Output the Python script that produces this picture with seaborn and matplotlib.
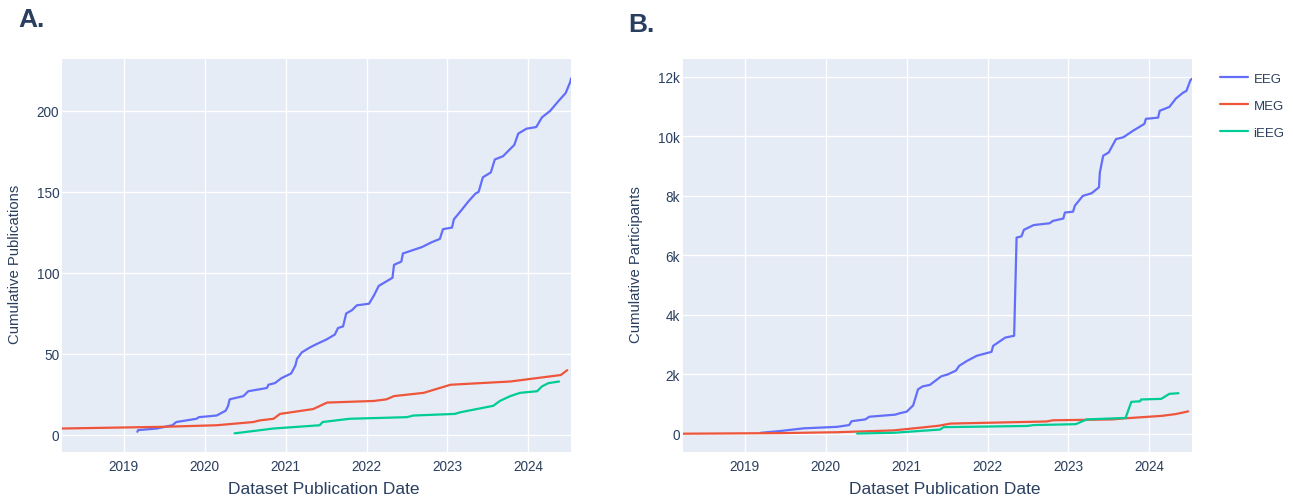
import matplotlib
matplotlib.use("Agg")
import matplotlib.pyplot as plt
import matplotlib.dates as mdates
import matplotlib.ticker as mticker
from matplotlib.lines import Line2D
import pandas as pd
import seaborn as sns

# ---- cumulative publications per modality ----
eeg_pub_dates = [
    "2019-03-03", "2019-03-07", "2019-05-30", "2019-08-08", "2019-08-26", "2019-11-25",
    "2019-12-06", "2020-02-24", "2020-04-05", "2020-04-16", "2020-04-23", "2020-06-24",
    "2020-07-16", "2020-10-08", "2020-10-15", "2020-11-13", "2020-12-12", "2021-01-26",
    "2021-02-14", "2021-02-21", "2021-03-15", "2021-04-20", "2021-05-19", "2021-07-05",
    "2021-08-11", "2021-08-25", "2021-09-17", "2021-10-01", "2021-10-27", "2021-11-18",
    "2022-01-12", "2022-02-03", "2022-02-25", "2022-04-28", "2022-05-05", "2022-06-07",
    "2022-06-14", "2022-09-09", "2022-10-23", "2022-11-28", "2022-12-12", "2023-01-22",
    "2023-01-30", "2023-03-07", "2023-04-05", "2023-05-08", "2023-05-22", "2023-06-10",
    "2023-07-16", "2023-08-03", "2023-09-09", "2023-10-30", "2023-11-17", "2023-12-24",
    "2024-02-06", "2024-03-03", "2024-04-09", "2024-05-16", "2024-06-18", "2024-07-09",
    "2024-07-12",
]
eeg_pub_counts = [
    2, 3, 4, 6, 8, 10,
    11, 12, 15, 18, 22, 24,
    27, 29, 31, 32, 35, 38,
    43, 47, 51, 54, 56, 59,
    62, 66, 67, 75, 77, 80,
    81, 86, 92, 97, 105, 107,
    112, 116, 119, 121, 127, 128,
    133, 139, 144, 149, 150, 159,
    162, 170, 172, 179, 186, 189,
    190, 196, 200, 206, 211, 218,
    220,
]

meg_pub_dates = [
    "2018-03-28", "2019-06-14", "2020-02-24", "2020-08-08", "2020-09-06", "2020-11-07",
    "2020-12-06", "2021-05-05", "2021-07-07", "2022-02-03", "2022-04-01", "2022-05-05",
    "2022-09-16", "2023-01-15", "2023-10-12", "2024-05-27", "2024-06-25",
]
meg_pub_counts = [4, 5, 6, 8, 9, 10, 13, 16, 20, 21, 22, 24, 26, 31, 33, 37, 40]

ieeg_pub_dates = [
    "2020-05-15", "2020-11-07", "2021-06-03", "2021-06-17", "2021-10-16", "2022-07-02",
    "2022-07-31", "2023-02-03", "2023-02-28", "2023-07-27", "2023-08-26", "2023-10-12",
    "2023-11-25", "2024-02-10", "2024-03-03", "2024-04-01", "2024-05-19",
]
ieeg_pub_counts = [1, 4, 6, 8, 10, 11, 12, 13, 14, 18, 21, 24, 26, 27, 30, 32, 33]

# ---- cumulative participants per modality ----
eeg_part_dates = [
    "2019-03-14", "2019-06-10", "2019-09-24", "2020-02-21", "2020-04-16", "2020-04-27",
    "2020-06-28", "2020-07-16", "2020-11-10", "2020-12-02", "2021-01-01", "2021-01-30",
    "2021-02-21", "2021-03-14", "2021-04-16", "2021-06-06", "2021-07-05", "2021-08-11",
    "2021-08-26", "2021-10-01", "2021-11-14", "2022-01-19", "2022-01-26", "2022-03-22",
    "2022-05-01", "2022-05-12", "2022-06-03", "2022-06-14", "2022-07-28", "2022-10-08",
    "2022-10-23", "2022-12-09", "2022-12-16", "2023-01-22", "2023-01-30", "2023-03-07",
    "2023-04-16", "2023-05-19", "2023-05-23", "2023-06-07", "2023-07-02", "2023-08-04",
    "2023-09-06", "2023-10-20", "2023-12-10", "2023-12-17", "2024-02-10", "2024-02-17",
    "2024-04-01", "2024-04-30", "2024-06-02", "2024-06-17", "2024-07-05", "2024-07-12",
]
eeg_part_counts = [
    40, 100, 190, 240, 300, 430,
    490, 580, 650, 700, 750, 960,
    1500, 1600, 1650, 1940, 2000, 2130,
    2290, 2460, 2630, 2760, 2960, 3240,
    3300, 6600, 6640, 6860, 7020, 7080,
    7160, 7240, 7440, 7470, 7670, 8000,
    8090, 8290, 8790, 9350, 9460, 9910,
    9970, 10190, 10420, 10590, 10630, 10860,
    10990, 11270, 11470, 11530, 11890, 11940,
]

meg_part_dates = [
    "2018-03-28", "2019-06-14", "2020-02-24", "2020-11-01", "2021-03-14", "2021-05-28",
    "2021-07-17", "2022-09-23", "2022-10-23", "2023-07-20", "2023-09-01", "2024-02-28",
    "2024-04-30", "2024-06-25",
]
meg_part_counts = [10, 30, 60, 120, 220, 280, 350, 420, 460, 490, 520, 610, 670, 760]

ieeg_part_dates = [
    "2020-05-22", "2020-11-03", "2021-06-01", "2021-06-17", "2022-06-29", "2022-07-28",
    "2023-02-03", "2023-03-25", "2023-09-16", "2023-10-12", "2023-11-21", "2023-11-25",
    "2024-02-24", "2024-04-01", "2024-05-12",
]
ieeg_part_counts = [15, 40, 150, 230, 270, 300, 330, 490, 540, 1080, 1100, 1160, 1180, 1350, 1370]

modalities = ["EEG", "MEG", "iEEG"]
palette = {"EEG": "#636EFA", "MEG": "#EF553B", "iEEG": "#00CC96"}


def long_frame(series):
    parts = []
    for name, (dates, values) in zip(modalities, series):
        parts.append(pd.DataFrame({"date": pd.to_datetime(dates),
                                   "value": values,
                                   "modality": name}))
    return pd.concat(parts, ignore_index=True)


pubs = long_frame([(eeg_pub_dates, eeg_pub_counts),
                   (meg_pub_dates, meg_pub_counts),
                   (ieeg_pub_dates, ieeg_pub_counts)])
parts = long_frame([(eeg_part_dates, eeg_part_counts),
                    (meg_part_dates, meg_part_counts),
                    (ieeg_part_dates, ieeg_part_counts)])

sns.set_theme(style="darkgrid")
text_color = "#2a3f5f"
plt.rcParams.update({
    "font.family": ["Liberation Sans", "DejaVu Sans"],
    "axes.facecolor": "#E5ECF6",
    "grid.color": "white",
    "grid.linewidth": 1.0,
    "xtick.color": text_color,
    "ytick.color": text_color,
    "axes.labelcolor": text_color,
})

fig = plt.figure(figsize=(12.93, 5.02), dpi=100)
ax_a = fig.add_axes([62 / 1293, 49 / 502, 509 / 1293, 393 / 502])
ax_b = fig.add_axes([683 / 1293, 49 / 502, 509 / 1293, 393 / 502])

x_min = pd.Timestamp("2018-03-28")
x_max = pd.Timestamp("2024-07-12")

for ax, df, ylabel, ylim, yticks in [
    (ax_a, pubs, "Cumulative Publications", (-10.5, 232), [0, 50, 100, 150, 200]),
    (ax_b, parts, "Cumulative Participants", (-605, 12600),
     [0, 2000, 4000, 6000, 8000, 10000, 12000]),
]:
    sns.lineplot(data=df, x="date", y="value", hue="modality", hue_order=modalities,
                 palette=palette, estimator=None, sort=False, linewidth=1.6,
                 legend=False, ax=ax)
    ax.set_xlim(x_min, x_max)
    ax.set_ylim(*ylim)
    ax.set_yticks(yticks)
    ax.xaxis.set_major_locator(mdates.YearLocator())
    ax.xaxis.set_major_formatter(mdates.DateFormatter("%Y"))
    ax.tick_params(axis="both", length=0, labelsize=9.8)
    ax.tick_params(axis="y", pad=2)
    ax.tick_params(axis="x", pad=5)
    for s in ax.spines.values():
        s.set_visible(False)
    ax.set_xlabel("Dataset Publication Date", fontsize=12.5, color=text_color)
    ax.set_ylabel(ylabel, fontsize=10.7, color=text_color)
    ax.xaxis.set_label_coords(0.515, -0.094)
    ax.yaxis.set_label_coords(-0.092, 0.48)
    ax.xaxis.label.set_va("center")
    ax.yaxis.label.set_va("center")

ax_b.yaxis.set_major_formatter(
    mticker.FuncFormatter(lambda v, _: "0" if v == 0 else f"{int(v / 1000)}k"))

handles = [Line2D([], [], color=palette[m], linewidth=1.6) for m in modalities]
fig.legend(handles, modalities, loc="upper left", bbox_to_anchor=(1208 / 1293, 1 - 62 / 502),
           frameon=False, fontsize=9.5, handlelength=2.1, labelspacing=1.1,
           handletextpad=0.45, labelcolor=text_color)

fig.text(18 / 1293, 1 - 20 / 502, "A.", fontsize=19, fontweight="bold",
         color=text_color, va="center", ha="left")
fig.text(628 / 1293, 1 - 25 / 502, "B.", fontsize=19, fontweight="bold",
         color=text_color, va="center", ha="left")

fig.savefig("out.png", dpi=100)
